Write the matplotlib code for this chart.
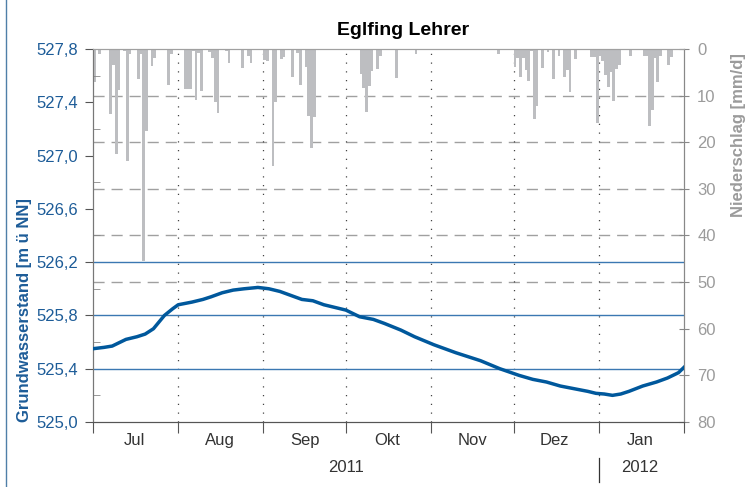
import numpy as np
import matplotlib
matplotlib.use("Agg")
import matplotlib.pyplot as plt
import matplotlib.dates as mdates
import matplotlib.transforms as mtransforms
from matplotlib.lines import Line2D
from matplotlib.ticker import FixedLocator, NullFormatter

plt.rcParams["font.family"] = ["Liberation Sans", "DejaVu Sans"]

start = np.datetime64("2011-07-01")

# Grundwasserstand (days after 1 Jul 2011, m ue. NN)
gw_day = [0, 4, 7, 10, 12, 16, 19, 22, 26, 29, 31, 36, 40, 43, 47, 51, 55, 60,
          64, 68, 72, 76, 80, 84, 88, 92, 97, 102, 106, 112, 117, 124, 132,
          141, 148, 155, 160, 165, 170, 175, 180, 183, 186, 189, 192, 195,
          200, 205, 209, 213, 215]
gw_level = [525.55, 525.56, 525.57, 525.60, 525.62, 525.64, 525.66, 525.70,
            525.80, 525.85, 525.88, 525.90, 525.92, 525.94, 525.97, 525.99,
            526.00, 526.01, 526.00, 525.98, 525.95, 525.92, 525.91, 525.88,
            525.86, 525.84, 525.79, 525.77, 525.74, 525.69, 525.64, 525.58,
            525.52, 525.46, 525.40, 525.35, 525.32, 525.30, 525.27, 525.25,
            525.23, 525.215, 525.21, 525.20, 525.21, 525.23, 525.27, 525.30,
            525.33, 525.37, 525.41]

# Niederschlag (days after 1 Jul 2011, mm/d)
rain_day = [0, 2, 6, 7, 8, 9, 11, 12, 13, 16, 17, 18, 19, 21, 22, 27, 28,
            33, 34, 35, 36, 37, 38, 39, 42, 43, 44, 45, 48, 49, 54, 56, 57,
            62, 63, 65, 66, 68, 69, 72, 74, 75, 77, 78, 79, 80,
            97, 98, 99, 100, 101, 103, 104, 110, 117, 132, 147,
            153, 154, 155, 156, 157, 158, 159, 160, 161, 163, 165, 167, 169,
            170, 171, 172, 173, 175, 181, 182, 183,
            184, 185, 186, 187, 188, 189, 190, 191, 195, 200, 201, 202, 203,
            204, 205, 206, 209, 210]
rain_mm = [7.0, 1.0, 14.0, 3.4, 22.5, 8.8, 0.5, 24.0, 1.0, 6.5, 1.0, 45.5, 17.6,
           3.6, 2.0, 7.8, 1.0,
           8.5, 8.5, 8.5, 0.5, 11.0, 0.8, 9.0, 0.7, 2.0, 11.3, 13.8, 0.4, 3.0,
           4.0, 1.4, 3.0,
           2.4, 2.6, 25.0, 11.3, 2.2, 1.7, 6.0, 0.8, 7.7, 3.9, 14.4, 21.3, 14.6,
           5.3, 8.3, 13.6, 8.0, 4.8, 4.3, 1.6, 6.3, 1.0, 0.3, 1.0,
           3.8, 1.9, 6.0, 2.0, 4.6, 6.9, 0.5, 15.0, 12.2, 4.1, 0.7, 6.5, 1.4,
           0.2, 5.9, 4.5, 9.3, 2.1, 1.7, 1.8, 15.8,
           1.5, 2.5, 5.5, 8.2, 5.0, 11.2, 4.3, 3.5, 1.4, 1.5, 1.5, 16.5, 13.0,
           2.0, 7.0, 1.5, 3.5, 1.7]

ref_levels = [526.2, 525.8, 525.4]
months = ["Jul", "Aug", "Sep", "Okt", "Nov", "Dez", "Jan"]
month_starts = ["2011-07-01", "2011-08-01", "2011-09-01", "2011-10-01",
                "2011-11-01", "2011-12-01", "2012-01-01", "2012-02-01"]
years = ["2011", "2012"]

blue = "#1d5c98"
line_blue = "#00589c"
grey = "#9b9b9b"

gw_dates = start + np.array(gw_day).astype("timedelta64[D]")
rain_dates = start + np.array(rain_day).astype("timedelta64[D]")
edges = np.array(month_starts, dtype="datetime64[D]")
mids = edges[:-1] + (edges[1:] - edges[:-1]) / 2

fig = plt.figure(figsize=(7.54, 4.87), dpi=100)
ax = fig.add_axes([0.1233, 0.1335, 0.7838, 0.7659])
ax2 = ax.twinx()

# precipitation on the inverted right axis
ax2.set_ylim(80, 0)
for v in [10, 20, 30, 40, 50]:
    ax2.axhline(v, color="#a0a0a0", lw=1.0, ls=(0, (8, 5)), zorder=1)
ax2.bar(rain_dates, rain_mm, width=1, align="edge", color="#bdbec1",
        linewidth=0, zorder=2)

for d in edges[1:-1]:
    ax2.axvline(d, color="#444444", lw=0.9, ls=(0, (1, 6)), zorder=1)

# groundwater
ax.set_zorder(ax2.get_zorder() + 1)
ax.patch.set_visible(False)
for lv in ref_levels:
    ax.axhline(lv, color="#3b78b2", lw=1.0, zorder=2)
ax.plot(gw_dates, gw_level, color=line_blue, lw=2.5, zorder=3)

ax.set_ylim(525.0, 527.8)
ax.set_xlim(edges[0], edges[-1])
ax.set_yticks(np.arange(525.0, 527.81, 0.4))
ax.set_yticklabels([f"{v:.1f}".replace(".", ",") for v in np.arange(525.0, 527.81, 0.4)])
ax.yaxis.set_minor_locator(FixedLocator(np.arange(525.2, 527.8, 0.4)))
ax.tick_params(axis="y", which="major", direction="out", length=6,
               colors="#555555", labelcolor=blue, labelsize=12, pad=5)
ax.tick_params(axis="y", which="minor", direction="in", length=5, colors="#888888")

ax.xaxis.set_major_locator(FixedLocator(mdates.date2num(edges)))
ax.xaxis.set_major_formatter(NullFormatter())
ax.xaxis.set_minor_locator(FixedLocator(mdates.date2num(mids)))
ax.set_xticklabels(months, minor=True)
ax.tick_params(axis="x", which="major", direction="out", length=8, colors="#555555")
ax.tick_params(axis="x", which="minor", length=0, labelsize=12,
               labelcolor="#333333", pad=8)

ax2.set_yticks(np.arange(0, 81, 10))
ax2.tick_params(axis="y", direction="inout", length=7, colors="#888888",
                labelcolor=grey, labelsize=12, pad=6)

for a in (ax, ax2):
    a.spines["top"].set_color("#a0a0a0")
    a.spines["left"].set_color("#777777")
    a.spines["right"].set_color("#888888")
    a.spines["bottom"].set_color("#555555")

ax.set_title("Eglfing Lehrer", fontsize=14, fontweight="bold", pad=10, x=0.5245)

# year labels under the month names
trans = mtransforms.blended_transform_factory(ax.transData, ax.transAxes)
ax.text(mdates.date2num(edges[0] + (edges[6] - edges[0]) / 2), -0.123, years[0],
        transform=trans, ha="center", va="center", fontsize=12, color="#333333")
ax.text(mdates.date2num(mids[6]), -0.123, years[1], transform=trans,
        ha="center", va="center", fontsize=12, color="#333333")
ax.add_line(Line2D([mdates.date2num(edges[6])] * 2, [-0.097, -0.161],
                   transform=trans, color="#333333", lw=0.9, clip_on=False))

fig.text(25 / 754, 1 - 310 / 487, "Grundwasserstand [m ü NN]", rotation=90,
         ha="center", va="center", fontsize=12, fontweight="bold", color=blue)
fig.text(738 / 754, 1 - 135 / 487, "Niederschlag [mm/d]", rotation=90,
         ha="center", va="center", fontsize=12, fontweight="bold", color=grey)

fig.add_artist(Line2D([6 / 754, 6 / 754], [0, 1], transform=fig.transFigure,
                      color="#4f7fa8", lw=1.0))

fig.savefig("out.png", dpi=100)
